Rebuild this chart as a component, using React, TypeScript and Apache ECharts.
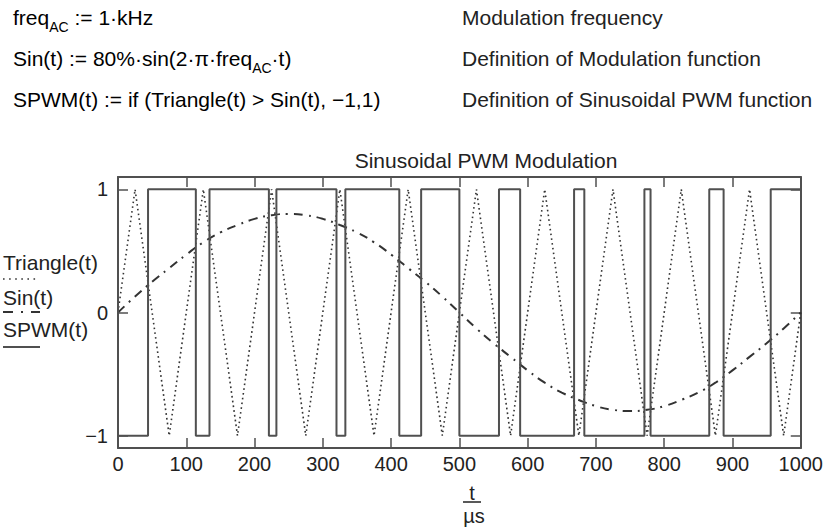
import React, { useEffect, useRef } from 'react';
import * as echarts from 'echarts';

// Triangle carrier: vertices (µs, value)
const triangleTimes = [0, 25, 75, 125, 175, 225, 275, 325, 375, 425, 475, 525, 575, 625, 675, 725, 775, 825, 875, 925, 975, 1000];
const triangleValues = [0, 1, -1, 1, -1, 1, -1, 1, -1, 1, -1, 1, -1, 1, -1, 1, -1, 1, -1, 1, -1, 0];

// Modulating sine: samples (µs, value)
const sinTimes = [0, 25, 50, 75, 100, 125, 150, 175, 200, 225, 250, 275, 300, 325, 350, 375, 400, 425, 450, 475, 500,
  525, 550, 575, 600, 625, 650, 675, 700, 725, 750, 775, 800, 825, 850, 875, 900, 925, 950, 975, 1000];
const sinValues = [0, 0.13, 0.25, 0.36, 0.47, 0.57, 0.65, 0.71, 0.76, 0.79, 0.8, 0.79, 0.76, 0.71, 0.65, 0.57, 0.47, 0.36, 0.25, 0.13, 0,
  -0.13, -0.25, -0.36, -0.47, -0.57, -0.65, -0.71, -0.76, -0.79, -0.8, -0.79, -0.76, -0.71, -0.65, -0.57, -0.47, -0.36, -0.25, -0.13, 0];

// SPWM switching instants (µs), starting level after t=0 is -1
const spwmEdges = [44, 114, 134, 221, 232, 320, 333, 412, 444, 500, 558, 589, 668, 683, 771, 780, 866, 887, 956];
const spwmEnd = 1000;

const xTicks = { min: 0, max: 1000, interval: 100 };
const yTickValues = [-1, 0, 1];

const FONT = '"Liberation Sans", Arial, Helvetica, sans-serif';
const INK = '#222';
const LINE = '#505050';

export default function App() {
  const ref = useRef<HTMLDivElement>(null);

  useEffect(() => {
    if (!ref.current) return;
    const chart = echarts.init(ref.current, undefined, { renderer: 'svg' });

    const tri = triangleTimes.map((t, i) => [t, triangleValues[i]]);
    const sin = sinTimes.map((t, i) => [t, sinValues[i]]);
    const spwm: number[][] = [[0, 1], [0, -1]];
    let level = -1;
    spwmEdges.forEach((e) => {
      spwm.push([e, level]);
      level = -level;
      spwm.push([e, level]);
    });
    spwm.push([spwmEnd, level]);

    const axisLine = { show: true, onZero: false, lineStyle: { color: LINE, width: 2 } };
    const axisTick = { show: true, inside: true, length: 10, lineStyle: { color: LINE, width: 1.5 } };

    const main = { fontSize: 21, fontFamily: FONT, color: INK, lineHeight: 34 };
    const sub = { fontSize: 14, fontFamily: FONT, color: INK, lineHeight: 15, verticalAlign: 'bottom' };

    const txt = (text: string, x: number, y: number, extra: any = {}) => ({
      type: 'text',
      x,
      y,
      style: {
        text,
        fill: INK,
        font: `21px ${FONT}`,
        textAlign: 'left',
        textVerticalAlign: 'middle',
        ...extra,
      },
    });

    const richTxt = (text: string, x: number, y: number) => ({
      type: 'text',
      x,
      y,
      style: {
        text,
        textAlign: 'left',
        textVerticalAlign: 'middle',
        rich: { m: main, s: sub },
      },
    });

    chart.setOption({
      animation: false,
      backgroundColor: '#fff',
      grid: { left: 118, right: 14, top: 177, bottom: 79, containLabel: false },
      xAxis: [
        {
          type: 'value',
          position: 'bottom',
          ...xTicks,
          axisLine,
          axisTick,
          splitLine: { show: false },
          axisLabel: {
            show: true,
            color: INK,
            fontSize: 20,
            fontFamily: FONT,
            margin: 6,
            alignMinLabel: 'center',
            alignMaxLabel: 'center',
            formatter: (v: number) => String(v),
          },
        },
        {
          type: 'value',
          position: 'top',
          ...xTicks,
          axisLine,
          axisTick,
          splitLine: { show: false },
          axisLabel: { show: false },
        },
      ],
      yAxis: [
        {
          type: 'value',
          position: 'left',
          min: -1.1,
          max: 1.1,
          axisLine,
          axisTick: { ...axisTick, customValues: yTickValues },
          splitLine: { show: false },
          axisLabel: {
            show: true,
            customValues: yTickValues,
            color: INK,
            fontSize: 20,
            fontFamily: FONT,
            margin: 10,
            formatter: (v: number) => String(v).replace('-', '\u2212'),
          },
        },
        {
          type: 'value',
          position: 'right',
          min: -1.1,
          max: 1.1,
          axisLine,
          axisTick: { ...axisTick, customValues: yTickValues },
          splitLine: { show: false },
          axisLabel: { show: false },
        },
      ],
      series: [
        {
          name: 'Triangle(t)',
          type: 'line',
          data: tri,
          symbol: 'none',
          lineStyle: { color: '#333', width: 1.6, type: [1.6, 3.2] },
        },
        {
          name: 'Sin(t)',
          type: 'line',
          data: sin,
          smooth: true,
          symbol: 'none',
          lineStyle: { color: '#333', width: 2, type: [9, 6, 2, 6] },
        },
        {
          name: 'SPWM(t)',
          type: 'line',
          data: spwm,
          symbol: 'none',
          lineStyle: { color: LINE, width: 2 },
        },
      ],
      graphic: [
        txt('Sinusoidal PWM Modulation', 486, 160, { textAlign: 'center' }),
        richTxt('{m|freq}{s|AC}{m| := 1\u00b7kHz}', 13, 17),
        richTxt('{m|Sin(t) := 80%\u00b7sin(2\u00b7\u03c0\u00b7freq}{s|AC}{m|\u00b7t)}', 13, 58),
        richTxt('{m|SPWM(t) := if (Triangle(t) > Sin(t), \u22121,1)}', 13, 99),
        txt('Modulation frequency', 462, 17),
        txt('Definition of Modulation function', 462, 58),
        txt('Definition of Sinusoidal PWM function', 462, 99),
        txt('Triangle(t)', 3, 262),
        { type: 'line', shape: { x1: 3, y1: 279, x2: 37, y2: 279 }, style: { stroke: '#333', lineWidth: 1.6, lineDash: [1.6, 4.5] } },
        txt('Sin(t)', 3, 297),
        { type: 'line', shape: { x1: 3, y1: 312, x2: 40, y2: 312 }, style: { stroke: '#333', lineWidth: 2, lineDash: [10, 8, 2, 8] } },
        txt('SPWM(t)', 3, 329),
        { type: 'line', shape: { x1: 3, y1: 347, x2: 40, y2: 347 }, style: { stroke: LINE, lineWidth: 2 } },
        txt('t', 472, 493, { textAlign: 'center', font: `20px ${FONT}` }),
        { type: 'line', shape: { x1: 463, y1: 502, x2: 481, y2: 502 }, style: { stroke: INK, lineWidth: 1.5 } },
        txt('\u00b5s', 474, 516, { textAlign: 'center', font: `20px ${FONT}` }),
      ],
    });

    return () => chart.dispose();
  }, []);

  return (
    <div
      ref={ref}
      style={{ position: 'fixed', left: 0, top: 0, width: 826, height: 527, background: '#fff' }}
    />
  );
}
